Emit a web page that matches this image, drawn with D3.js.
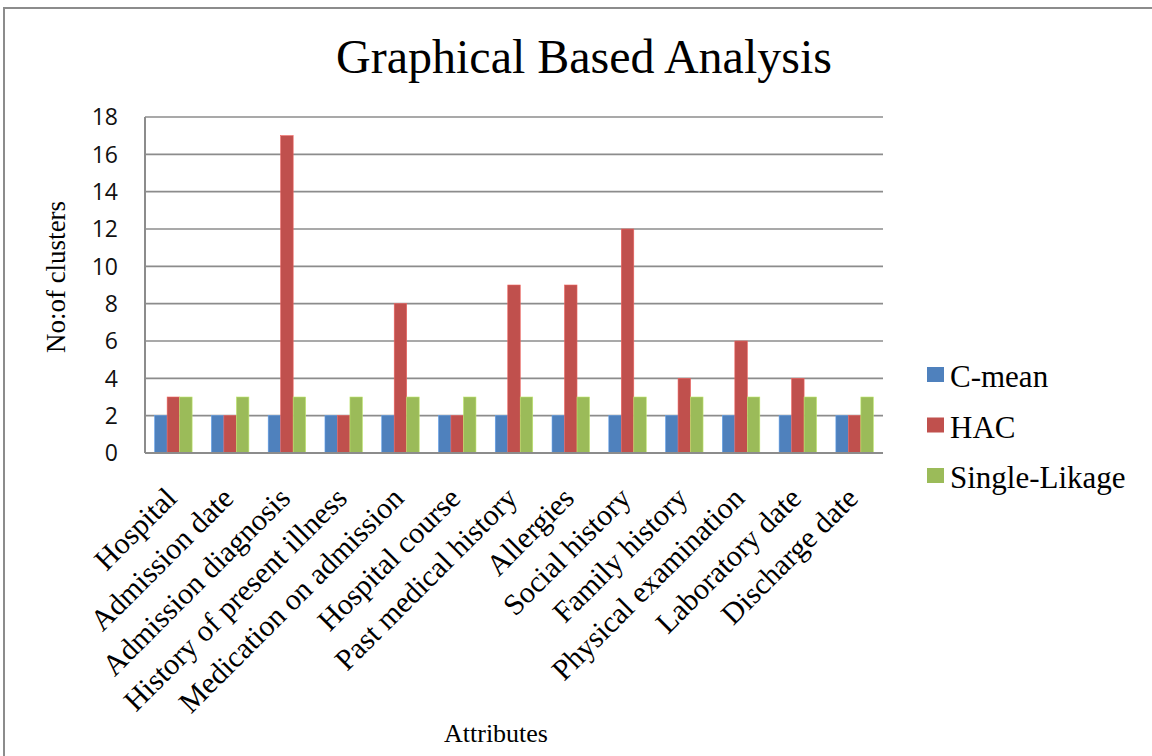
<!DOCTYPE html>
<html>
<head>
<meta charset="utf-8">
<script src="https://cdn.jsdelivr.net/npm/d3@7"></script>
<style>
  html, body { margin: 0; padding: 0; background: #fff; }
  svg { display: block; }
</style>
</head>
<body>
<div id="chart"></div>
<script>
// values
const categories = ["Hospital", "Admission date", "Admission diagnosis", "History of present illness",
  "Medication on admission", "Hospital course", "Past medical history", "Allergies",
  "Social history", "Family history", "Physical examination", "Laboratory date", "Discharge date"];
const seriesNames = ["C-mean", "HAC", "Single-Likage"];
const cMean  = [2, 2, 2, 2, 2, 2, 2, 2, 2, 2, 2, 2, 2];
const hac    = [3, 2, 17, 2, 8, 2, 9, 9, 12, 4, 6, 4, 2];
const single = [3, 3, 3, 3, 3, 3, 3, 3, 3, 3, 3, 3, 3];
const yTicks = [0, 2, 4, 6, 8, 10, 12, 14, 16, 18];
const colors = ["#4F81BD", "#C0504D", "#9BBB59"];

const W = 1152, H = 756;
const serif = "'Liberation Serif', 'Times New Roman', serif";
const sans = "'Open Sans', 'Noto Sans', sans-serif";
const m = { left: 145, right: 269, top: 117, bottom: 303 };

const svg = d3.select("#chart").append("svg").attr("width", W).attr("height", H);

// outer frame
svg.append("rect").attr("x", 4).attr("y", 8).attr("width", W + 10).attr("height", H + 10)
  .attr("fill", "none").attr("stroke", "#8c8c8c").attr("stroke-width", 2);

const table = categories.map((c, i) => ({ cat: c, vals: [cMean[i], hac[i], single[i]] }));

const x = d3.scaleBand().domain(categories).range([m.left, W - m.right]).paddingInner(0.34).paddingOuter(0.17);
const xs = d3.scaleBand().domain(d3.range(seriesNames.length)).range([0, x.bandwidth()]);
const y = d3.scaleLinear().domain([0, 18]).range([H - m.bottom, m.top]);

// gridlines
svg.append("g").selectAll("line").data(yTicks.filter(t => t > 0)).join("line")
  .attr("x1", m.left).attr("x2", W - m.right)
  .attr("y1", d => y(d)).attr("y2", d => y(d))
  .attr("stroke", "#8c8c8c").attr("stroke-width", 1.6);

// bars
svg.append("g").selectAll("g").data(table).join("g")
  .attr("transform", d => `translate(${x(d.cat)},0)`)
  .selectAll("rect").data(d => d.vals).join("rect")
  .attr("x", (d, i) => xs(i)).attr("width", xs.bandwidth())
  .attr("y", d => y(d)).attr("height", d => y(0) - y(d))
  .attr("fill", (d, i) => colors[i])
  .attr("stroke", (d, i) => d3.color(colors[i]).brighter(0.6)).attr("stroke-width", 0.6);

// axes lines
svg.append("line").attr("x1", m.left).attr("x2", m.left).attr("y1", m.top).attr("y2", y(0))
  .attr("stroke", "#8c8c8c").attr("stroke-width", 2);
svg.append("line").attr("x1", m.left).attr("x2", W - m.right).attr("y1", y(0)).attr("y2", y(0))
  .attr("stroke", "#8c8c8c").attr("stroke-width", 2);

// y tick labels
svg.append("g").selectAll("text").data(yTicks).join("text")
  .attr("x", 118).attr("y", d => y(d)).attr("dy", "0.36em")
  .attr("text-anchor", "end").attr("font-family", sans).attr("font-size", 23)
  .attr("fill", "#111").text(d => d);

// x tick labels
svg.append("g").selectAll("text").data(categories).join("text")
  .attr("transform", d => `translate(${x(d) + x.bandwidth() / 2 + 5},${y(0) + 47}) rotate(-45)`)
  .attr("text-anchor", "end").attr("font-family", serif).attr("font-size", 30)
  .attr("fill", "#000").text(d => d);

// title
svg.append("text").attr("x", 584).attr("y", 73).attr("text-anchor", "middle")
  .attr("font-family", serif).attr("font-size", 48).attr("fill", "#000")
  .text("Graphical Based Analysis");

// axis titles
svg.append("text").attr("transform", `translate(65,277) rotate(-90)`)
  .attr("text-anchor", "middle").attr("font-family", serif).attr("font-size", 27)
  .text("No:of clusters");
svg.append("text").attr("x", 496).attr("y", 742).attr("text-anchor", "middle")
  .attr("font-family", serif).attr("font-size", 26).text("Attributes");

// legend
const leg = svg.append("g").selectAll("g").data(seriesNames).join("g")
  .attr("transform", (d, i) => `translate(927,${367 + i * 50.5})`);
leg.append("rect").attr("width", 17).attr("height", 15).attr("fill", (d, i) => colors[i]);
leg.append("text").attr("x", 23).attr("y", 20)
  .attr("font-family", serif).attr("font-size", 31).text(d => d);
</script>
</body>
</html>
